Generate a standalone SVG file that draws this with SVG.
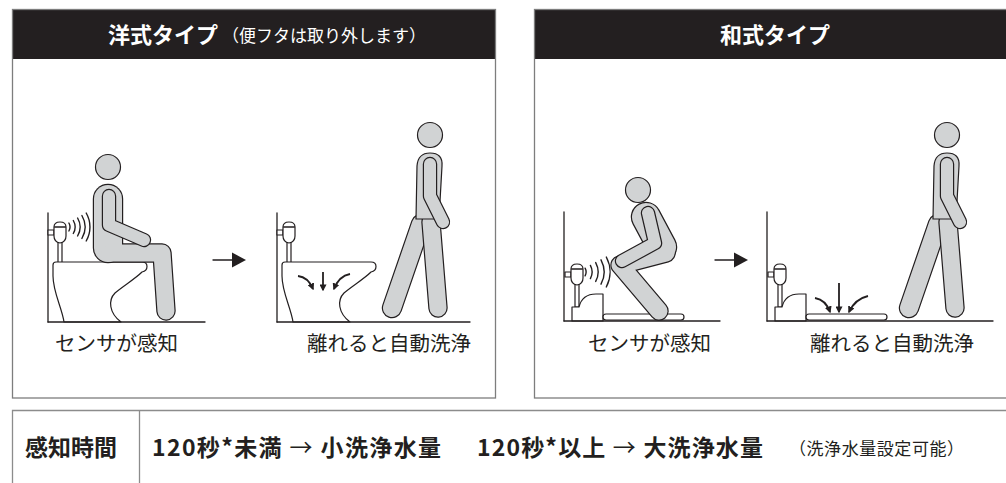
<svg xmlns="http://www.w3.org/2000/svg" xmlns:xlink="http://www.w3.org/1999/xlink" width="1006" height="483" viewBox="0 0 1006 483">
  <defs>
    <style>
      .frame{fill:none;stroke:#7d7d7d;stroke-width:1.3}
      .rule{fill:none;stroke:#8c8c8c;stroke-width:1.3}
      .hdr{fill:#231f20}
      .ink{fill:none;stroke:#231f20;stroke-width:1.3;stroke-linecap:round}
      .fix{fill:#fff;stroke:#231f20;stroke-width:1.2;stroke-linejoin:round}
      .ol{fill:none;stroke:#231f20;stroke-linecap:round;stroke-linejoin:round}
      .gf{fill:none;stroke:#d1d3d4;stroke-linecap:round;stroke-linejoin:round}
      .skin{fill:#d1d3d4;stroke:#231f20;stroke-width:1.2}
      .wave{fill:none;stroke:#231f20;stroke-width:1.4;stroke-linecap:round}
      .flow{fill:none;stroke:#231f20;stroke-width:1.8;marker-end:url(#tip)}
      .step{fill:#231f20}
      text{font-family:"Noto Sans CJK JP","Noto Sans CJK SC",sans-serif;fill:#231f20}
      .ttl{fill:#fff;font-size:22px;font-weight:700}
      .sub{fill:#fff;font-size:17px}
      .cap{font-size:20.5px}
      .tb{font-size:23px;font-weight:700}
      .note{font-size:17px}
    </style>
    <marker id="tip" viewBox="0 0 10 10" refX="8" refY="5" markerWidth="7" markerHeight="7" markerUnits="userSpaceOnUse" orient="auto">
      <path d="M0,0 L10,5 L0,10 Z" fill="#231f20"/>
    </marker>

    <!-- wall-mounted sensor flush valve, body top-left at 0,0 -->
    <g id="sensor">
      <rect class="fix" x="-6" y="8" width="6" height="5"/>
      <path class="fix" d="M0,5 Q0,0 6,0 Q12,0 12,5 L12,14 Q12,20 6,21 Q0,20 0,14 Z"/>
      <path class="ink" stroke-width="1" d="M0.6,5 H11.4"/>
    </g>

    <!-- western toilet with wall and valve -->
    <g id="western">
      <path class="ink" d="M277,213 V322"/>
      <rect class="fix" x="287" y="242" width="4" height="21"/>
      <use xlink:href="#sensor" href="#sensor" x="283" y="222"/>
      <path class="fix" d="M293,322 C291,308 282,292 282,276 L282,265 Q282,262 285,262 L371,262 Q376,262 376,266.5 Q376,271 371,272 C364,279 352,286 344,293 C337,300 338,313 350,322 Z"/>
    </g>

    <!-- squat toilet with wall and valve -->
    <g id="squat">
      <path class="ink" d="M564,212 V321"/>
      <rect class="fix" x="575" y="284" width="4" height="23"/>
      <use xlink:href="#sensor" href="#sensor" x="571" y="264"/>
      <path class="fix" d="M572,321 L572,307 L579,307 C581,299 587,294 596,294 L603,294 L603,321 Z"/>
      <rect class="fix" x="603" y="314" width="81" height="6" rx="3"/>
    </g>

    <!-- standing figure walking away -->
    <g id="walker">
      <path class="ol" stroke-width="20.4" d="M421,224 L392,308"/>
      <path class="gf" stroke-width="18" d="M421,224 L392,308"/>
      <path class="ol" stroke-width="19.4" d="M431,222 L438,308"/>
      <path class="gf" stroke-width="17" d="M431,222 L438,308"/>
      <path class="skin" d="M416,219 L417,166 Q418,153 430,153 Q443,153 442,166 L439,219 Z"/>
      <path class="ol" stroke-width="14.4" d="M430,164 L430,196 L443,222"/>
      <path class="gf" stroke-width="12" d="M430,164 L430,196 L443,222"/>
      <circle class="skin" cx="430" cy="135" r="12.5"/>
    </g>
  </defs>

  <!-- panel frames and headers -->
  <g id="panel-western-frame">
    <rect class="hdr" x="12" y="9" width="484" height="50"/>
    <rect class="frame" x="12.5" y="9.5" width="483" height="388.5"/>
    <text class="ttl" x="108" y="43">洋式タイプ</text>
    <text class="sub" x="222" y="42">（便フタは取り外します）</text>
  </g>
  <g id="panel-squat-frame">
    <rect class="hdr" x="534" y="9" width="480" height="50"/>
    <rect class="frame" x="534.5" y="9.5" width="480" height="388.5"/>
    <text class="ttl" x="720" y="43">和式タイプ</text>
  </g>

  <!-- western: seated, sensor detects -->
  <g id="western-detect">
    <use xlink:href="#western" href="#western" transform="translate(-229,0)"/>
    <path class="ink" d="M48,322 H205"/>
    <g class="wave">
      <path d="M68.9,223 A8,8 0 0 1 68.9,231"/>
      <path d="M73.3,220.5 A13,13 0 0 1 73.3,233.5"/>
      <path d="M77.6,218 A18,18 0 0 1 77.6,236"/>
      <path d="M81.9,215.5 A23,23 0 0 1 81.9,238.5"/>
      <path d="M86.2,213 A28,28 0 0 1 86.2,241"/>
    </g>
    <g id="seated-figure">
      <path class="ol" stroke-width="30.4" d="M108,199 L108,248"/>
      <path class="ol" stroke-width="19.4" d="M110,253 L162,253 L166,311"/>
      <path class="gf" stroke-width="28" d="M108,199 L108,248"/>
      <path class="gf" stroke-width="17" d="M110,253 L162,253 L166,311"/>
      <path class="ol" stroke-width="14.4" d="M109,196 L109,225 L144,240"/>
      <path class="gf" stroke-width="12" d="M109,196 L109,225 L144,240"/>
      <circle class="skin" cx="108" cy="167" r="12.5"/>
    </g>
    <text class="cap" x="55" y="351">センサが感知</text>
  </g>

  <!-- western: leaves, auto flush -->
  <g id="western-flush">
    <use xlink:href="#western" href="#western"/>
    <path class="ink" d="M277,322 H470"/>
    <path class="flow" d="M298,276 Q308,277 313,289"/>
    <path class="flow" d="M323,272 L323,290"/>
    <path class="flow" d="M350,274 Q339,276 334,289"/>
    <use xlink:href="#walker" href="#walker"/>
    <text class="cap" x="307" y="351">離れると自動洗浄</text>
  </g>

  <!-- squat: crouched, sensor detects -->
  <g id="squat-detect">
    <use xlink:href="#squat" href="#squat"/>
    <path class="ink" d="M564,321 H720"/>
    <g class="wave">
      <path d="M585.1,268.2 A8,8 0 0 1 585.1,275.8"/>
      <path d="M590.4,265.4 A14,14 0 0 1 590.4,278.6"/>
      <path d="M595.7,262.6 A20,20 0 0 1 595.7,281.4"/>
      <path d="M601,259.8 A26,26 0 0 1 601,284.2"/>
      <path d="M606.3,257 A32,32 0 0 1 606.3,287"/>
    </g>
    <g id="squatting-figure">
      <path class="ol" stroke-width="30.4" d="M646,217 L662,247"/>
      <path class="ol" stroke-width="19.4" d="M666,253 L620,265 L659,311"/>
      <path class="gf" stroke-width="28" d="M646,217 L662,247"/>
      <path class="gf" stroke-width="17" d="M666,253 L620,265 L659,311"/>
      <path class="ol" stroke-width="14.4" d="M648,213 L655,243 L622,261"/>
      <path class="gf" stroke-width="12" d="M648,213 L655,243 L622,261"/>
      <circle class="skin" cx="638" cy="190" r="12.5"/>
    </g>
    <text class="cap" x="588" y="351">センサが感知</text>
  </g>

  <!-- squat: leaves, auto flush -->
  <g id="squat-flush">
    <use xlink:href="#squat" href="#squat" transform="translate(203,0)"/>
    <path class="ink" d="M767,321 H993"/>
    <path class="flow" d="M815,298 Q826,300 830,312"/>
    <path class="flow" d="M839,283 L839,312"/>
    <path class="flow" d="M868,296 Q855,299 849,312"/>
    <use xlink:href="#walker" href="#walker" transform="translate(517,0)"/>
    <text class="cap" x="810" y="351">離れると自動洗浄</text>
  </g>

  <!-- step arrows between scenes -->
  <g id="connectors">
    <path class="ink" stroke-width="3.2" stroke-linecap="butt" d="M213,260 H234"/>
    <polygon class="step" points="232,252.5 246,260 232,267.5"/>
    <path class="ink" stroke-width="3.2" stroke-linecap="butt" d="M715,260 H736"/>
    <polygon class="step" points="734,252.5 748,260 734,267.5"/>
  </g>

  <!-- detection time table -->
  <g id="time-table">
    <path class="rule" d="M12.5,483 V410.5 H1006"/>
    <path class="rule" d="M139.5,410.5 V483"/>
    <text class="tb" x="25" y="456">感知時間</text>
    <text class="tb" x="152" y="456" textLength="289">120秒*未満 <tspan font-weight="400">→</tspan> 小洗浄水量</text>
    <text class="tb" x="477" y="456" textLength="286">120秒*以上 <tspan font-weight="400">→</tspan> 大洗浄水量</text>
    <text class="note" x="789" y="455" textLength="175">（洗浄水量設定可能）</text>
  </g>
</svg>
